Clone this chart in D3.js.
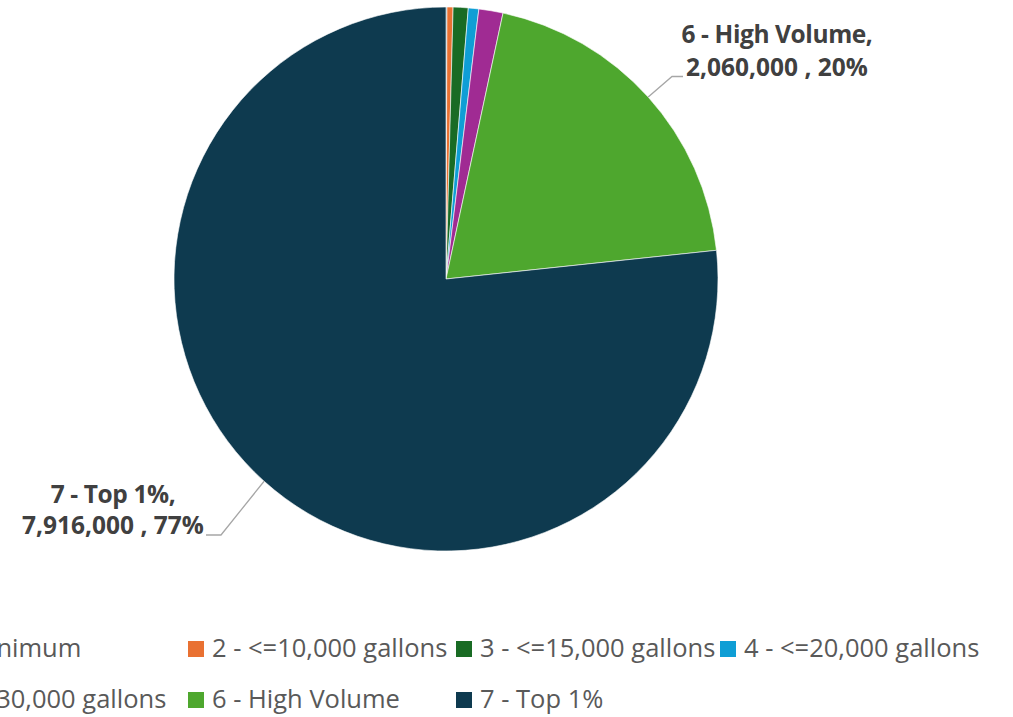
<!DOCTYPE html>
<html>
<head>
<meta charset="utf-8">
<script src="https://cdn.jsdelivr.net/npm/d3@7"></script>
<style>
  html, body { margin: 0; padding: 0; background: #ffffff; overflow: hidden; }
  svg { display: block; }
</style>
</head>
<body>
<svg id="chart" width="1013" height="717"></svg>
<script>
// ---- data ----
const categories = [
  "1 - Minimum",
  "2 - <=10,000 gallons",
  "3 - <=15,000 gallons",
  "4 - <=20,000 gallons",
  "5 - <=30,000 gallons",
  "6 - High Volume",
  "7 - Top 1%"
];
const values = [6000, 37000, 92000, 64000, 148000, 2060000, 7916000];
const colors = ["#156082", "#E97132", "#196B24", "#0F9ED5", "#A02B93", "#4EA72E", "#0E3A4F"];
// labelled slices (index) shown with data labels
const labelledIdx = [5, 6];

// ---- layout ----
const W = 1013, H = 717;
const cx = 446, cy = 279, R = 272;
const svg = d3.select("#chart");

const data = categories.map((c, i) => ({ name: c, value: values[i], color: colors[i] }));
const total = d3.sum(values);

const pie = d3.pie().sort(null).value(d => d.value);
const arcs = pie(data);
const arc = d3.arc().innerRadius(0).outerRadius(R);
const edgeArc = d3.arc().innerRadius(R).outerRadius(R);

const g = svg.append("g").attr("transform", `translate(${cx},${cy})`);
g.selectAll("path.slice")
  .data(arcs)
  .join("path")
  .attr("class", "slice")
  .attr("d", arc)
  .attr("fill", d => d.data.color)
  .attr("stroke", "#ffffff")
  .attr("stroke-width", 0.6);

// ---- data labels ----
const fmt = d3.format(",");
const pct = d3.format(".0%");
const labelLayout = {
  5: { x: 777, y1: 43, y2: 76, elbow: [672, 76.5], end: [683, 76.5] },
  6: { x: 113, y1: 503, y2: 534, elbow: [221, 535], end: [206, 535] }
};
labelledIdx.forEach(i => {
  const a = arcs[i];
  const L = labelLayout[i];
  const p = edgeArc.centroid(a);
  const start = [cx + p[0], cy + p[1]];
  svg.append("polyline")
    .attr("points", [start, L.elbow, L.end].map(q => q.join(",")).join(" "))
    .attr("fill", "none")
    .attr("stroke", "#A6A6A6")
    .attr("stroke-width", 1.3);
  const t = svg.append("text")
    .attr("text-anchor", "middle")
    .attr("font-family", "'Open Sans', sans-serif")
    .attr("font-weight", "bold")
    .attr("font-size", 24.5)
    .attr("fill", "#404040");
  t.append("tspan").attr("x", L.x).attr("y", L.y1).attr("letter-spacing", -0.4).text(a.data.name + ",");
  t.append("tspan").attr("x", L.x).attr("y", L.y2)
    .text(fmt(a.data.value) + " , " + pct(a.data.value / total));
});

// ---- legend ----
const colX = [-93, 188, 456, 720];
const rowY0 = 657, rowH = 51, perRow = 4;
const leg = svg.append("g");
data.forEach((d, i) => {
  const col = i % perRow, row = Math.floor(i / perRow);
  const x = colX[col], y = rowY0 + row * rowH;
  leg.append("rect")
    .attr("x", x).attr("y", y - 16)
    .attr("width", 16).attr("height", 16)
    .attr("fill", d.color);
  leg.append("text")
    .attr("x", x + 24).attr("y", y)
    .attr("font-family", "'Open Sans', sans-serif")
    .attr("font-size", 25.5)
    .attr("fill", "#595959")
    .text(d.name);
});
</script>
</body>
</html>
